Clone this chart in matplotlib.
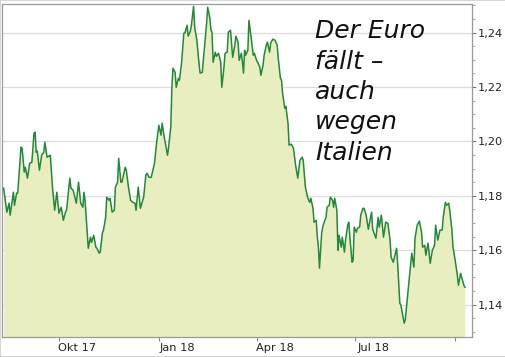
import matplotlib
matplotlib.use("Agg")
import matplotlib.pyplot as plt
import matplotlib.dates as mdates
from matplotlib.ticker import MultipleLocator, FuncFormatter, NullFormatter
import pandas as pd
import numpy as np

# ---- data: day offsets from 2017-10-01 and EUR/USD values ----
days = [-51, -48, -46, -45, -42, -41, -39, -38, -35, -34, -32, -31, -29, -27, -25, -23, -22, -21, -20, -18,
        -16, -14, -13, -11, -9, -8, -6, -4, -2, 0, 2, 4, 6, 7, 10, 11, 13, 16, 18, 20,
        22, 23, 24, 26, 27, 29, 30, 32, 34, 35, 37, 38, 40, 41, 43, 44, 46, 47, 49, 51,
        52, 54, 55, 57, 58, 61, 62, 64, 66, 68, 70, 71, 73, 75, 78, 80, 81, 83, 85,
        88, 90, 92, 94, 95, 97, 100, 101, 103, 104, 105, 107, 108, 110, 111, 113, 115, 116, 118, 119,
        121, 122, 124, 125, 127, 129, 130, 132, 134, 136, 137, 139, 140, 141, 142, 144, 145, 147, 149, 150,
        152, 153, 155, 156, 158,
        160, 162, 163, 165, 166, 168, 169, 170, 171, 172, 174, 175, 177, 179, 180, 182, 183, 185, 186, 188,
        189, 191, 192, 194, 195, 197, 199, 201, 202, 204, 205, 206, 208, 209, 211, 212, 214,
        216, 218, 220, 222, 224, 225, 227, 229, 231, 232, 234, 235, 237, 238, 239, 240, 242, 243, 244,
        246, 247, 249, 250, 252, 253, 254, 256, 257, 258, 260, 261, 263, 264, 266, 267, 268, 270, 271, 272,
        274, 275, 277, 278, 280, 281,
        283, 285, 288, 289, 292, 294, 295, 297, 299, 301, 303, 305, 306, 308, 311, 312, 314, 315, 318, 319,
        321, 323, 325, 327, 328, 330, 332, 334, 335, 337, 338, 340, 342, 344, 346, 347, 349, 351, 353, 354,
        356, 357, 359, 360, 362, 363, 365, 367, 368, 370, 371, 373, 374]

eurusd = [1.1828, 1.1740, 1.1773, 1.1729, 1.1813, 1.1765, 1.1810, 1.1810, 1.1979, 1.1975, 1.1887, 1.1905, 1.1865, 1.1920, 1.1923, 1.2030, 1.2034, 1.1960, 1.1964, 1.1894,
          1.1949, 1.1960, 1.1997, 1.1942, 1.1946, 1.1949, 1.1832, 1.1747, 1.1813, 1.1736, 1.1758, 1.1710, 1.1740, 1.1747, 1.1865, 1.1828, 1.1821, 1.1773, 1.1850, 1.1773,
          1.1758, 1.1813, 1.1784, 1.1663, 1.1607, 1.1648, 1.1629, 1.1655, 1.1611, 1.1607, 1.1589, 1.1593, 1.1663, 1.1674, 1.1721, 1.1795, 1.1784, 1.1791, 1.1740, 1.1747,
          1.1832, 1.1850, 1.1938, 1.1850, 1.1850, 1.1905, 1.1894, 1.1832, 1.1784, 1.1776, 1.1773, 1.1747, 1.1832, 1.1754, 1.1795, 1.1876, 1.1883, 1.1868, 1.1868,
          1.1920, 1.1997, 1.2059, 1.2023, 1.2067, 1.2015, 1.1949, 1.1979, 1.2052, 1.2196, 1.2269, 1.2254, 1.2199, 1.2232, 1.2225, 1.2291, 1.2398, 1.2398, 1.2427, 1.2387,
          1.2405, 1.2427, 1.2497, 1.2420, 1.2372, 1.2287, 1.2251, 1.2254, 1.2346, 1.2434, 1.2493, 1.2453, 1.2409, 1.2401, 1.2291, 1.2328, 1.2313, 1.2324, 1.2291, 1.2199,
          1.2273, 1.2324, 1.2328, 1.2401, 1.2409,
          1.2309, 1.2354, 1.2387, 1.2365, 1.2298, 1.2324, 1.2291, 1.2251, 1.2335, 1.2317, 1.2335, 1.2445, 1.2383, 1.2317, 1.2324, 1.2298, 1.2291, 1.2273, 1.2243, 1.2280,
          1.2317, 1.2354, 1.2365, 1.2328, 1.2361, 1.2376, 1.2372, 1.2354, 1.2306, 1.2232, 1.2225, 1.2177, 1.2122, 1.2129, 1.2067, 1.1986, 1.1990,
          1.1975, 1.1912, 1.1865, 1.1931, 1.1942, 1.1931, 1.1832, 1.1795, 1.1776, 1.1791, 1.1754, 1.1703, 1.1710, 1.1648, 1.1611, 1.1534, 1.1663, 1.1685, 1.1699,
          1.1721, 1.1758, 1.1765, 1.1795, 1.1784, 1.1758, 1.1791, 1.1747, 1.1600, 1.1655, 1.1611, 1.1648, 1.1593, 1.1637, 1.1692, 1.1703, 1.1648, 1.1556, 1.1563, 1.1685,
          1.1666, 1.1681, 1.1685, 1.1729, 1.1754, 1.1754,
          1.1729, 1.1677, 1.1740, 1.1677, 1.1644, 1.1721, 1.1685, 1.1729, 1.1648, 1.1703, 1.1699, 1.1637, 1.1574, 1.1556, 1.1607, 1.1552, 1.1405, 1.1398, 1.1332, 1.1343,
          1.1427, 1.1508, 1.1589, 1.1538, 1.1644, 1.1692, 1.1707, 1.1666, 1.1611, 1.1618, 1.1582, 1.1626, 1.1552, 1.1600, 1.1618, 1.1692, 1.1637, 1.1674, 1.1674, 1.1721,
          1.1776, 1.1765, 1.1773, 1.1747, 1.1674, 1.1611, 1.1563, 1.1508, 1.1471, 1.1515, 1.1501, 1.1471, 1.1464]

tick_months = ["2017-10-01", "2018-01-01", "2018-04-01", "2018-07-01", "2018-10-01"]
label_dates = ["2017-10-18", "2018-01-18", "2018-04-18", "2018-07-18"]
month_labels = ["Okt 17", "Jan 18", "Apr 18", "Jul 18"]
y_ticks = [1.14, 1.16, 1.18, 1.20, 1.22, 1.24]
title_lines = ["Der Euro", "fällt –", "auch", "wegen", "Italien"]

base = pd.Timestamp("2017-10-01")
dates = base + pd.to_timedelta(days, unit="D")

W, H = 506, 357
fig = plt.figure(figsize=(W / 100, H / 100), dpi=100)
fig.patch.set_facecolor("white")

ax = fig.add_axes([2 / W, (H - 337) / H, 470 / W, 333.5 / H])
ymin, ymax = 1.1281, 1.2507
ax.set_ylim(ymin, ymax)
ax.set_xlim(base - pd.Timedelta(days=52.5), base + pd.Timedelta(days=380.5))

line_col = "#24883a"
fill_col = "#e9eec0"
ax.fill_between(dates, eurusd, ymin, color=fill_col, linewidth=0, zorder=1)
ax.plot(dates, eurusd, color=line_col, linewidth=1.1, zorder=3)

# grid
for v in y_ticks:
    ax.axhline(v, color="#dcdcdc", linewidth=0.9, zorder=0.5)

# spines
for s in ax.spines.values():
    s.set_color("#9a9a9a")
    s.set_linewidth(0.9)

# y axis right
ax.yaxis.tick_right()
ax.set_yticks(y_ticks)
ax.yaxis.set_minor_locator(MultipleLocator(0.005))
ax.yaxis.set_major_formatter(FuncFormatter(lambda v, p: f"{v:.2f}".replace(".", ",")))
ax.tick_params(axis="y", which="major", length=3, width=0.8, color="#777777",
               labelsize=8.2, labelcolor="#222222", pad=1.5)
ax.tick_params(axis="y", which="minor", length=2, width=0.6, color="#999999")

# x axis: ticks at month starts, labels mid-month
ax.set_xticks(pd.to_datetime(tick_months))
ax.xaxis.set_major_formatter(NullFormatter())
ax.set_xticks(pd.to_datetime(label_dates), minor=True)
ax.set_xticklabels(month_labels, minor=True)
ax.tick_params(axis="x", which="major", length=3, width=0.8, color="#888888")
ax.tick_params(axis="x", which="minor", length=0, labelsize=8.2, labelcolor="#222222", pad=4)

# handwritten-style title
baselines = [38, 69, 99, 129, 160]
for txt, yb in zip(title_lines, baselines):
    fig.text(315 / W, 1 - yb / H, txt, fontsize=18, fontstyle="italic",
             family=["DejaVu Sans"], color="#111111", va="baseline", ha="left",
             zorder=10)

# light outer frame
fig.add_artist(plt.Rectangle((0, 0), 1, 1, transform=fig.transFigure, fill=False,
                             edgecolor="#cfcfcf", linewidth=1.2))

fig.savefig("out.png", dpi=100)
